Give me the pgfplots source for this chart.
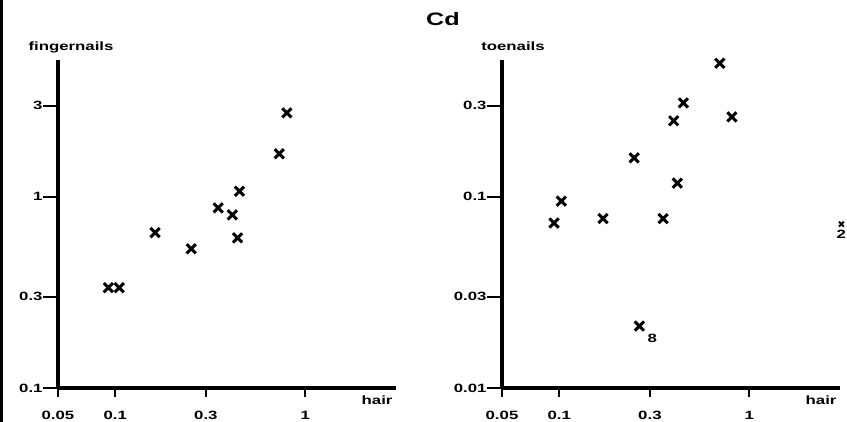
\documentclass[border=0pt]{standalone}
\usepackage{fontspec}
\usepackage{graphicx}
\setmainfont{Liberation Sans}
\newfontfamily\bfont{Liberation Sans Bold}
\newcommand{\lab}[1]{\scalebox{1.4}[1]{#1}}
\usepackage{pgfplots}
\pgfplotsset{compat=1.18}
\pgfplotsset{cdstyle/.style={
  scale only axis, width=338bp, height=328bp,
  xmin=0.05, xmax=3,
  axis x line=bottom, axis y line=left,
  axis line style={-, line width=3.2bp},
  every tick/.style={black, line width=1.8bp},
  major tick length=15bp,
  xtick style={/pgfplots/major tick length=9bp},
  tick align=outside,
  minor xtick={}, minor ytick={},
  xtick={0.05,0.1,0.3,1}, xticklabels={\lab{0.05},\lab{0.1},\lab{0.3},\lab{1}},
  /pgf/number format/assume math mode=true,
  tick label style={font=\bfont\fontsize{12bp}{13bp}\selectfont},
  xticklabel style={anchor=north, yshift=-5bp},
  yticklabel style={anchor=east, xshift=3bp},
  every axis x label/.style={at={(axis description cs:1,0)}, anchor=north east, yshift=-4bp,
     font=\bfont\fontsize{12bp}{13bp}\selectfont},
  every axis y label/.style={at={(axis description cs:0,1)}, anchor=base, yshift=9bp,
     font=\bfont\fontsize{12bp}{13bp}\selectfont},
  clip=false,
}}
\begin{document}
\begin{tikzpicture}
\useasboundingbox (0,0) rectangle (847bp,422bp);
\fill[white] (0,0) rectangle (847bp,422bp);
\draw[line width=3bp] (1.5bp,0) -- (1.5bp,422bp);
\node[font=\bfont\fontsize{18bp}{20bp}\selectfont] at (443bp,403bp) {\lab{Cd}};
\begin{loglogaxis}[cdstyle, at={(58bp,34bp)}, anchor=south west,
  ymin=0.1, ymax=5.2,
  ytick={0.1,0.3,1,3}, yticklabels={\lab{0.1},\lab{0.3},\lab{1},\lab{3}},
  xlabel={\lab{hair}}, ylabel={\lab{fingernails}},
  ylabel style={xshift=13bp}]
\addplot[only marks, mark=x, mark size=6.5bp, mark options={line width=3bp}] coordinates {
(0.80,2.75) (0.73,1.68) (0.45,1.07) (0.348,0.875) (0.413,0.805)
(0.44,0.61) (0.162,0.65) (0.251,0.535) (0.092,0.335) (0.105,0.335)
};
\end{loglogaxis}
\begin{loglogaxis}[cdstyle, at={(502bp,34bp)}, anchor=south west,
  ymin=0.01, ymax=0.52,
  ytick={0.01,0.03,0.1,0.3}, yticklabels={\lab{0.01},\lab{0.03},\lab{0.1},\lab{0.3}},
  xlabel={\lab{hair}}, ylabel={\lab{toenails}},
  ylabel style={xshift=11bp}]
\addplot[only marks, mark=x, mark size=6.5bp, mark options={line width=3bp}] coordinates {
(0.70,0.50) (0.45,0.31) (0.40,0.25) (0.81,0.262) (0.248,0.16)
(0.418,0.118) (0.1025,0.095) (0.094,0.073) (0.17,0.077) (0.352,0.077)
(0.264,0.0211)
};
\addplot[only marks, mark=x, mark size=3.5bp, mark options={line width=2bp}] coordinates {(3.05,0.072)};
\node[font=\bfont\fontsize{12bp}{13bp}\selectfont] at (axis cs:0.264,0.0211) [xshift=13bp,yshift=-12bp] {\lab{8}};
\node[font=\bfont\fontsize{12bp}{13bp}\selectfont] at (axis cs:3.05,0.072) [yshift=-10bp] {\lab{2}};
\end{loglogaxis}
\end{tikzpicture}
\end{document}
